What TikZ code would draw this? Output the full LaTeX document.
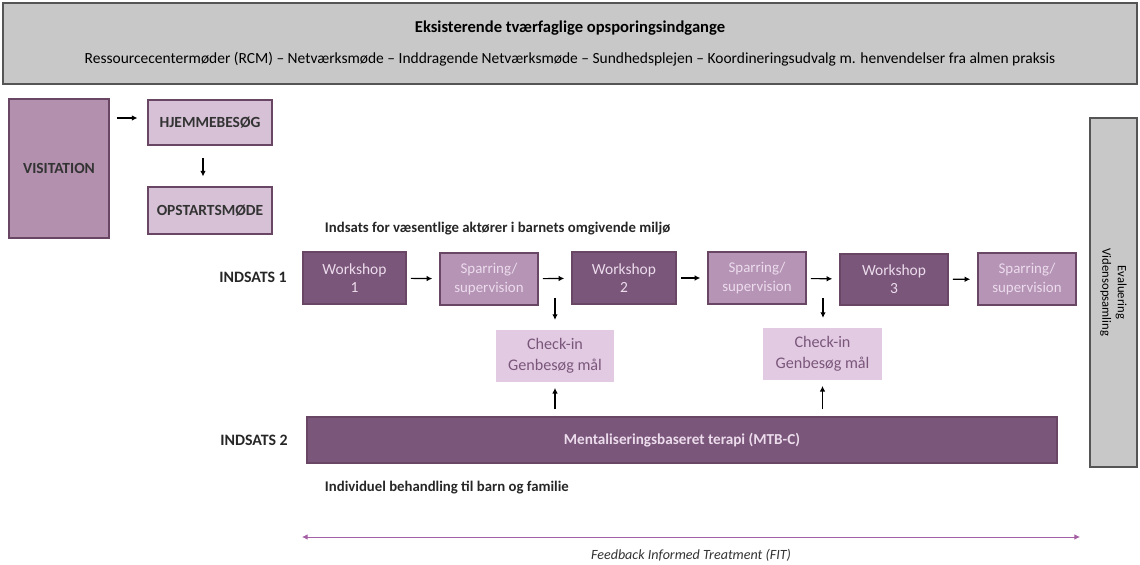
\documentclass[tikz,border=0pt]{standalone}
\usepackage{fontspec}
\setmainfont{Carlito}
\usetikzlibrary{arrows.meta,calc}
\definecolor{boxgray}{RGB}{200,200,200}
\definecolor{edgegray}{RGB}{85,85,85}
\definecolor{darkplum}{RGB}{122,86,122}
\definecolor{midplum}{RGB}{182,148,182}
\definecolor{paleplum}{RGB}{214,193,214}
\definecolor{softplum}{RGB}{226,203,226}
\definecolor{visitplum}{RGB}{178,144,174}
\definecolor{plumedge}{RGB}{105,70,100}
\definecolor{plumtext}{RGB}{236,220,236}
\definecolor{fitplum}{RGB}{165,95,165}
\newcommand{\pxu}{0.025cm}

\begin{document}
\begin{tikzpicture}[x=\pxu, y=-\pxu, font=\fontsize{11}{13}\selectfont,
    box/.style 2 args={inner sep=0pt, align=center, minimum width=#1*\pxu, minimum height=#2*\pxu},
    greybox/.style={fill=boxgray, draw=edgegray, line width=1.2pt},
    startbox/.style={fill=paleplum, draw=plumedge, line width=1pt, font=\fontsize{11}{13}\selectfont\bfseries, text=black!80},
    workshop/.style={fill=darkplum, draw=plumedge, line width=1pt, text=plumtext},
    sparring/.style={fill=midplum, draw=plumedge, line width=1pt, text=plumtext, font=\fontsize{10.6}{13}\selectfont},
    checkin/.style={fill=softplum, text=darkplum, font=\fontsize{11.5}{15}\selectfont},
    lbl/.style={font=\fontsize{10.5}{12}\selectfont\bfseries, text=black!85},
    arr/.style={-{Latex[length=4pt,width=4pt]}, thick}]
    % Fix the page to the size of the picture
    \useasboundingbox (0,0) rectangle (1140,565);

    % Draw the grey frames
    \node[greybox, box={1134}{81}] (tvaer) at (570,43.5)
        {{\fontsize{11.8}{13}\selectfont\bfseries Eksisterende tværfaglige opsporingsindgange}\\[9pt]
         {\fontsize{11}{12}\selectfont Ressourcecentermøder (RCM) – Netværksmøde – Inddragende Netværksmøde – Sundhedsplejen – Koordineringsudvalg m. henvendelser fra almen praksis}};
    \node[greybox, box={349}{47}, rotate=-90, font=\fontsize{9}{11}\selectfont] (eval) at (1113.5,292.5) {Evaluering\\Vidensopsamling};

    % Draw the start of the course
    \node[box={100}{139}, fill=visitplum, draw=plumedge, line width=1pt, font=\fontsize{11}{13}\selectfont\bfseries, text=black!80] (visit) at (59,168.5) {VISITATION};
    \node[startbox, box={124}{45}] (hjem) at (210,122.5) {HJEMMEBESØG};
    \node[startbox, box={124}{47}] (opst) at (210,210.5) {OPSTARTSMØDE};
    \draw[arr, shorten <=5pt, shorten >=7pt] (visit.east |- 0,118) -- (hjem.west |- 0,118);
    \draw[arr, shorten <=9pt, shorten >=7pt] (hjem.south -| 203,0) -- (opst.north -| 203,0);

    % Draw the first track
    \node[lbl, anchor=west] (miljo) at (320,229) {Indsats for væsentlige aktører i barnets omgivende miljø};
    \node[lbl, font=\fontsize{11.3}{13}\selectfont\bfseries] (ind1) at (253,277) {INDSATS 1};
    \node[workshop, box={103}{52}] (ws1) at (354.5,278) {Workshop\\1};
    \node[sparring, box={98}{52}] (sp1) at (489,279) {Sparring/\\supervision};
    \node[workshop, box={104}{52}] (ws2) at (624,278) {Workshop\\2};
    \node[sparring, box={98}{52}] (sp2) at (757,278) {Sparring/\\supervision};
    \node[workshop, box={108}{51}] (ws3) at (894,279.5) {Workshop\\3};
    \node[sparring, box={98}{52}] (sp3) at (1027,279) {Sparring/\\supervision};
    \draw[arr, shorten <=3pt, shorten >=5pt] (ws1) -- (sp1);
    \draw[arr, shorten <=3pt, shorten >=5pt] (sp1) -- (ws2);
    \draw[arr, shorten <=3pt, shorten >=5pt] (ws2) -- (sp2);
    \draw[arr, shorten <=3pt, shorten >=5pt] (sp2) -- (ws3);
    \draw[arr, shorten <=3pt, shorten >=5pt] (ws3) -- (sp3);

    % Draw the check-ins between the workshops
    \node[checkin, box={118}{52}] (ck1) at (555,356) {Check-in\\Genbesøg mål};
    \node[checkin, box={119}{52}] (ck2) at (822.5,354) {Check-in\\Genbesøg mål};
    \coordinate (gap1) at ($(sp1.south east)!0.5!(ws2.south west)$);
    \coordinate (gap2) at ($(sp2.south east)!0.5!(ws3.south west)$);
    \draw[arr, shorten <=-5pt, shorten >=7pt] (gap1) -- (gap1 |- ck1.north);
    \draw[arr, shorten <=-5pt, shorten >=7pt] (gap2) -- (gap2 |- ck2.north);

    % Draw the second track
    \node[lbl, font=\fontsize{11.3}{13}\selectfont\bfseries] (ind2) at (254,440) {INDSATS 2};
    \node[workshop, box={750}{46}, font=\fontsize{10.8}{13}\selectfont\bfseries] (mtb) at (682,440) {Mentaliseringsbaseret terapi (MTB-C)};
    \node[lbl, anchor=west] (indiv) at (320,488) {Individuel behandling til barn og familie};
    \draw[arr, shorten <=5pt, shorten >=4pt] (mtb.north -| ck1) -- (ck1.south);
    \draw[arr, shorten <=5pt, shorten >=4pt] (mtb.north -| ck2) -- (ck2.south);

    % Draw the feedback arrow
    \coordinate (fitL) at (302,537);
    \coordinate (fitR) at (1080,537);
    \draw[{Latex[length=4pt,width=4pt]}-{Latex[length=4pt,width=4pt]}, fitplum, semithick] (fitL) -- (fitR)
        node[midway, below=5pt, text=black!80, font=\fontsize{10}{12}\selectfont\itshape] (fit) {Feedback Informed Treatment (FIT)};
\end{tikzpicture}
\end{document}
